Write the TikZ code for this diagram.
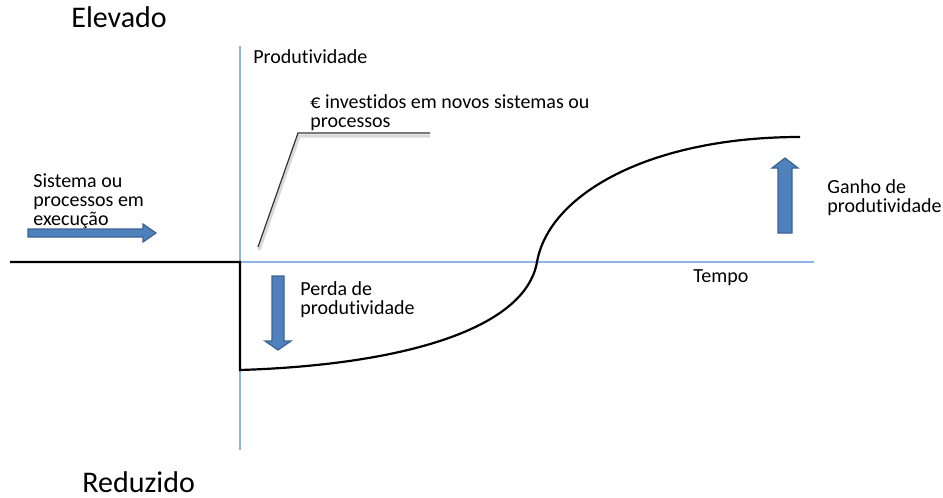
\documentclass[tikz,border=0pt]{standalone}
\usepackage{fontspec}
\setmainfont{Carlito}[Ligatures=NoCommon]
\usepackage{tikz}
\usetikzlibrary{positioning}
\definecolor{axisblue}{HTML}{8EB4E3}
\definecolor{arrowfill}{HTML}{4F81BD}
\definecolor{arrowline}{HTML}{3A6396}
\tikzstyle{axis} = [draw=axisblue, line width=0.6pt]
\tikzstyle{curve} = [draw=black, line width=1.1pt]
\tikzstyle{blockarrow} = [fill=arrowfill, draw=arrowline, line width=0.6pt, line join=miter]
\tikzstyle{txt} = [anchor=base west, inner sep=0pt, align=left, font=\fontsize{10}{9.5}\selectfont]
\tikzstyle{bigtxt} = [anchor=base west, inner sep=0pt, font=\fontsize{15}{18}\selectfont]

\begin{document}
\begin{tikzpicture}[x=0.5pt, y=-0.5pt]
	\useasboundingbox (0,0) rectangle (943,498);
	\node[bigtxt] (elevado) at (71,27) {Elevado};
	\node[bigtxt] (reduzido) at (82,492) {Reduzido};
	\coordinate (ytop) at (240,46);
	\coordinate (ybot) at (240,450);
	\coordinate (origin) at (240,262);
	\coordinate (xend) at (814,262);
	\draw[axis] (ytop) -- (ybot);
	\draw[axis] (origin) -- (xend);
	\node[txt] (prod) at (253,63) {Produtividade};
	\node[txt] (tempo) at (693,282) {Tempo};
	% curva de produtividade
	\coordinate (start) at (10,262);
	\coordinate (drop) at (240,370);
	\coordinate (cross) at (537,262);
	\coordinate (top) at (800,137);
	\draw[curve] (start) -- (origin) -- (drop)
		.. controls (400,365) and (525,330) .. (cross)
		.. controls (549,194) and (650,137) .. (top);
	% legenda do investimento
	\coordinate (c1) at (258,247);
	\coordinate (c2) at (298,133);
	\coordinate (c3) at (430,133);
	\draw[black!15, line width=1.6pt] ([shift={(1,3)}]c1) -- ([shift={(1,3)}]c2) -- ([shift={(0,3)}]c3);
	\draw[black!80, line width=0.6pt] (c1) -- (c2) -- (c3);
	\node[txt] (invest) at (310,127) {€ investidos em novos sistemas ou\\processos};
	% setas
	\draw[blockarrow] (28,229) -- (143,229) -- (143,224) -- (156,233) -- (143,242) -- (143,237) -- (28,237) -- cycle;
	\node[txt] (sistema) at (33,225) {Sistema ou\\processos em\\execução};
	\draw[blockarrow] (272,276) -- (284,276) -- (284,341) -- (291,341) -- (278,350) -- (265,341) -- (272,341) -- cycle;
	\node[txt] (perda) at (300,314) {Perda de\\produtividade};
	\draw[blockarrow] (778,233) -- (792,233) -- (792,168) -- (798,168) -- (785,158) -- (772,168) -- (778,168) -- cycle;
	\node[txt] (ganho) at (827,212) {Ganho de\\produtividade};
\end{tikzpicture}
\end{document}
